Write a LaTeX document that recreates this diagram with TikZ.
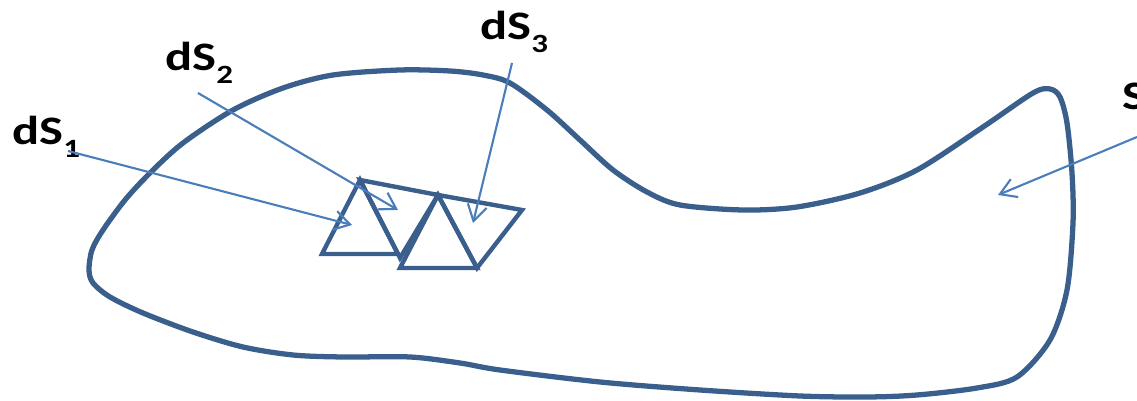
\documentclass[tikz,border=0pt]{standalone}
\usepackage{fontspec}
\setmainfont{Carlito}
\usetikzlibrary{arrows.meta}
\definecolor{rimblue}{RGB}{58,95,140}
\definecolor{ptrblue}{RGB}{74,126,187}
\newcommand{\dsname}[1]{\scalebox{1.25}[1]{dS\raisebox{-0.3em}{\fontsize{15}{15}\selectfont #1}}}

\begin{document}
\begin{tikzpicture}[x=0.02cm, y=-0.02cm,
  rim/.style={draw=rimblue, line width=3pt},
  patch/.style={draw=rimblue, line width=2.5pt, line join=miter},
  ptr/.style={draw=ptrblue, line width=1.2pt, -{Straight Barb[length=9pt,width=11pt]}},
  lbl/.style={inner sep=0pt, anchor=base west, font=\fontsize{23}{23}\selectfont\bfseries}]
  \useasboundingbox (0,0) rectangle (1137,401);
  % Surface S
  \draw[rim] plot[smooth cycle, tension=0.5] coordinates {
    (89,270) (92,250) (103,230) (125,200) (150,173) (183,143) (233,110) (283,88)
    (333,75) (400,70) (450,71) (483,75) (510,83) (547,110) (580,140) (613,170)
    (647,192) (680,205) (743,210) (797,207) (860,193) (917,170) (983,127) (1033,93)
    (1050,89) (1060,97) (1067,123) (1072,173) (1073,223) (1067,290) (1050,340)
    (1017,377) (977,388) (917,395) (867,397) (800,396) (700,390) (600,382) (500,370)
    (460,363) (410,357) (343,357) (293,355) (243,347) (193,332) (143,313) (110,297)
    (93,283)};
  % Patches
  \draw[patch] (360,180) -- (322,254) -- (398,254) -- cycle;
  \draw[patch] (360,180) -- (438,195) -- (400,258) -- cycle;
  \draw[patch] (438,195) -- (522,210) -- (477,268) -- cycle;
  \draw[patch] (438,195) -- (400,268) -- (477,268) -- cycle;
  % Labels
  \node[lbl] (ds1) at (12,145) {\dsname{1}};
  \node[lbl] (ds2) at (165,71) {\dsname{2}};
  \node[lbl] (ds3) at (480,40) {\dsname{3}};
  \node[lbl] (surf) at (1122,110) {\scalebox{1.25}[1]{S}};
  % Pointers
  \coordinate (tail1) at (68,151);   \coordinate (tip1) at (352,225);
  \coordinate (tail2) at (198,93);   \coordinate (tip2) at (398,210);
  \coordinate (tail3) at (512,63);   \coordinate (tip3) at (473,223);
  \coordinate (tailS) at (1137,137); \coordinate (tipS) at (998,195);
  \draw[ptr] (tail1) -- (tip1);
  \draw[ptr] (tail2) -- (tip2);
  \draw[ptr] (tail3) -- (tip3);
  \draw[ptr] (tailS) -- (tipS);
\end{tikzpicture}
\end{document}
